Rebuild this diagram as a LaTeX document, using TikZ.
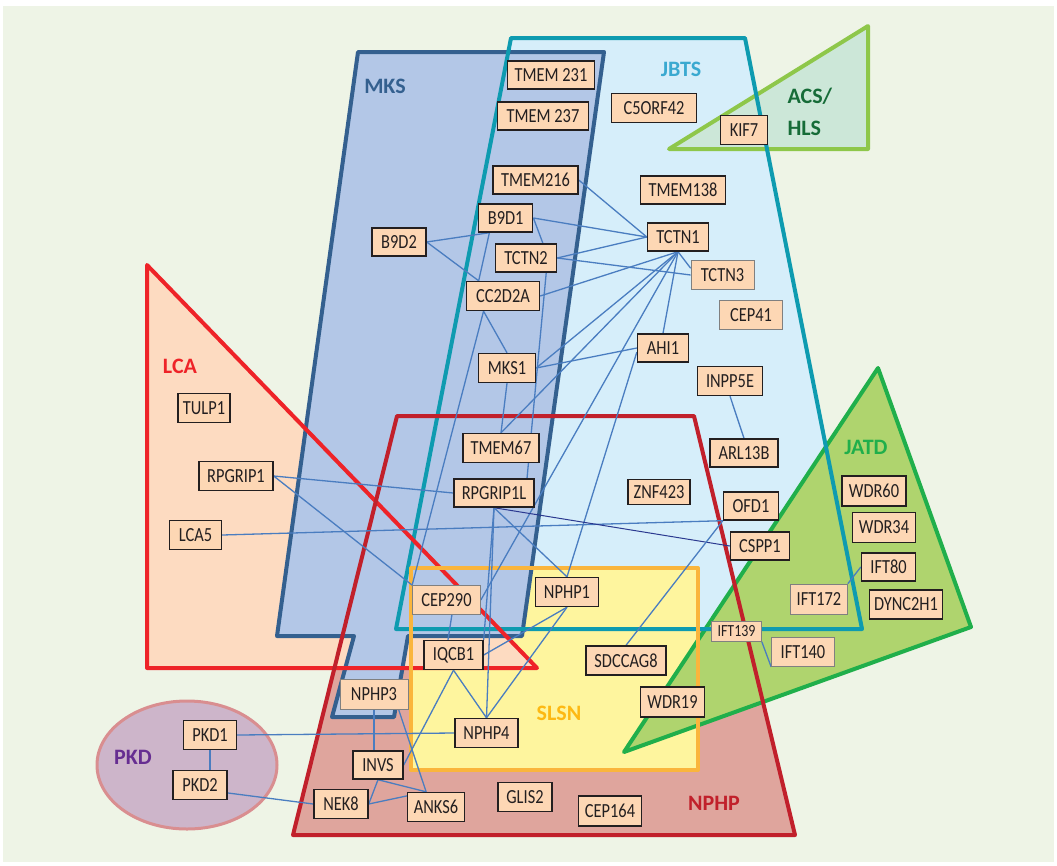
\documentclass[tikz,border=0pt]{standalone}
\usepackage{fontspec}
\setmainfont{Carlito}
\newfontfamily\boxfont{Carlito}[FakeStretch=0.82]
\newfontfamily\labfont{Carlito}
\usetikzlibrary{calc}
\pgfdeclarelayer{back}
\pgfdeclarelayer{mid}
\pgfsetlayers{back,mid,main}
\definecolor{bgc}{HTML}{EEF4E6}
\definecolor{jbtsF}{HTML}{D6EEFA}\definecolor{jbtsD}{HTML}{0E9BB0}\definecolor{jbtsT}{HTML}{3AA9D0}
\definecolor{mksF}{HTML}{B3C7E7}\definecolor{mksD}{HTML}{34608F}
\definecolor{lcaF}{HTML}{FDDBC1}\definecolor{lcaD}{HTML}{EE2328}
\definecolor{nphpF}{HTML}{DFA59D}\definecolor{nphpD}{HTML}{C1202B}
\definecolor{slsnF}{HTML}{FEF59E}\definecolor{slsnD}{HTML}{FAB53C}\definecolor{slsnT}{HTML}{FDB913}
\definecolor{jatdF}{HTML}{AFD46E}\definecolor{jatdD}{HTML}{20AF4B}
\definecolor{acsF}{HTML}{CCE7D8}\definecolor{acsD}{HTML}{8EC74A}\definecolor{acsT}{HTML}{166C38}
\definecolor{pkdF}{HTML}{CDB5CA}\definecolor{pkdD}{HTML}{D98E90}\definecolor{pkdT}{HTML}{662D91}
\definecolor{boxF}{HTML}{FDD7B4}\definecolor{boxD}{HTML}{231F20}
\definecolor{connC}{HTML}{4A7DC0}\definecolor{navyC}{HTML}{2B3990}
\begin{document}
\begin{tikzpicture}[x=1pt,y=-1pt,
  gbox/.style={draw=boxD,line width=1.4pt,fill=boxF,inner sep=0pt,text=boxD,
    font=\boxfont\fontsize{20}{20}\selectfont},
  lbox/.style={gbox,draw=gray,line width=0.7pt},
  conn/.style={draw=connC,line width=1.3pt},
  navy/.style={draw=navyC,line width=1pt},
  region/.style={line width=4pt,line join=round},
  rlab/.style={font=\labfont\bfseries\fontsize{22}{22}\selectfont}]
\useasboundingbox (0,0) rectangle (1057,865);
\begin{pgfonlayer}{back}
\fill[white] (0,0) rectangle (1057,865);
\fill[bgc] (3,6) rectangle (1054,862);
% fills
\fill[nphpF] (397,416) -- (694,416) -- (795,835) -- (293,835) -- cycle;
\fill[jbtsF] (511,38) -- (745,38) -- (862,629) -- (396,629) -- cycle;
\fill[slsnF] (411,568) rectangle (698,770);
\fill[lcaF] (147,265) -- (537,668) -- (147,668) -- cycle;
\fill[mksF] (358,52) -- (604,52) -- (522,636) -- (408,636) -- (394,717) -- (332,717) -- (354,636) -- (277,636) -- cycle;
\fill[jatdF] (878,368) -- (971,627) -- (624,752) -- cycle;
\fill[acsF] (669,149) -- (868,26) -- (868,149) -- cycle;
\fill[pkdF] (187,765) ellipse [x radius=90,y radius=64];
% borders
\draw[region,draw=jatdD] (878,368) -- (971,627) -- (624,752) -- cycle;
\draw[region,draw=acsD] (669,149) -- (868,26) -- (868,149) -- cycle;
\draw[region,draw=mksD] (358,52) -- (604,52) -- (522,636) -- (408,636) -- (394,717) -- (332,717) -- (354,636) -- (277,636) -- cycle;
\draw[region,draw=jbtsD] (511,38) -- (745,38) -- (862,629) -- (396,629) -- cycle;
\draw[region,draw=lcaD] (147,265) -- (537,668) -- (147,668) -- cycle;
\draw[region,draw=slsnD] (411,568) rectangle (698,770);
\draw[region,draw=nphpD] (397,416) -- (694,416) -- (795,835) -- (293,835) -- cycle;
\draw[region,draw=pkdD,line width=3pt] (187,765) ellipse [x radius=90,y radius=64];
\end{pgfonlayer}
% region labels
\node[rlab,text=mksD] (lmks) at (385,86) {MKS};
\node[rlab,text=jbtsT] (ljbts) at (681,69) {JBTS};
\node[rlab,text=acsT,anchor=west] (lacs) at (784,96) {ACS/};
\node[rlab,text=acsT,anchor=west] (lhls) at (784,128) {HLS};
\node[rlab,text=lcaD] (llca) at (180,366) {LCA};
\node[rlab,text=jatdD] (ljatd) at (866,447) {JATD};
\node[rlab,text=slsnT] (lslsn) at (559,713) {SLSN};
\node[rlab,text=nphpD] (lnphp) at (714,803) {NPHP};
\node[rlab,text=pkdT] (lpkd) at (133,757) {PKD};
% gene boxes
\node[gbox,minimum width=87,minimum height=28] (tmem231) at (551,75) {TMEM 231};
\node[gbox,minimum width=91,minimum height=28] (tmem237) at (543,116) {TMEM 237};
\node[gbox,minimum width=85,minimum height=29] (c5orf42) at (654,108) {C5ORF42};
\node[gbox,minimum width=47,minimum height=29] (kif7) at (744,130) {KIF7};
\node[gbox,minimum width=85,minimum height=28] (tmem216) at (535.5,180) {TMEM216};
\node[gbox,minimum width=85,minimum height=28] (tmem138) at (683,190) {TMEM138};
\node[gbox,minimum width=54,minimum height=28] (b9d1) at (505.7,218) {B9D1};
\node[gbox,minimum width=54,minimum height=28] (b9d2) at (399,242) {B9D2};
\node[gbox,minimum width=61,minimum height=28] (tctn1) at (678,237) {TCTN1};
\node[gbox,minimum width=61,minimum height=28] (tctn2) at (526,258) {TCTN2};
\node[lbox,minimum width=63,minimum height=29] (tctn3) at (722.5,275) {TCTN3};
\node[gbox,minimum width=73,minimum height=29] (cc2d2a) at (503,296) {CC2D2A};
\node[lbox,minimum width=63,minimum height=29] (cep41) at (751,315) {CEP41};
\node[gbox,minimum width=51,minimum height=28] (ahi1) at (663,348) {AHI1};
\node[gbox,minimum width=57,minimum height=29] (mks1) at (507,368) {MKS1};
\node[gbox,minimum width=65,minimum height=29] (inpp5e) at (730,381) {INPP5E};
\node[gbox,minimum width=52,minimum height=29] (tulp1) at (204,408) {TULP1};
\node[gbox,minimum width=76,minimum height=29] (tmem67) at (501,448) {TMEM67};
\node[gbox,minimum width=68,minimum height=28] (arl13b) at (744,453) {ARL13B};
\node[gbox,minimum width=74,minimum height=29] (rpgrip1) at (236,476) {RPGRIP1};
\node[gbox,minimum width=64,minimum height=30] (wdr60) at (874,491) {WDR60};
\node[gbox,minimum width=62,minimum height=25] (znf423) at (659,492) {ZNF423};
\node[gbox,minimum width=80,minimum height=28] (rpgrip1l) at (494,493) {RPGRIP1L};
\node[gbox,minimum width=55,minimum height=28] (ofd1) at (751,506) {OFD1};
\node[gbox,minimum width=63,minimum height=30] (wdr34) at (884,527.5) {WDR34};
\node[gbox,minimum width=52,minimum height=29] (lca5) at (195.5,535) {LCA5};
\node[gbox,minimum width=59,minimum height=28] (cspp1) at (760,546) {CSPP1};
\node[gbox,minimum width=54,minimum height=28] (ift80) at (888.5,567) {IFT80};
\node[gbox,minimum width=63,minimum height=29] (nphp1) at (567,592) {NPHP1};
\node[lbox,minimum width=68,minimum height=29] (cep290) at (446.5,600) {CEP290};
\node[lbox,minimum width=57,minimum height=30] (ift172) at (819,599) {IFT172};
\node[gbox,minimum width=73,minimum height=29] (dync2h1) at (906,604.5) {DYNC2H1};
\node[lbox,minimum width=50,minimum height=20,font=\boxfont\fontsize{17}{17}\selectfont] (ift139) at (736.5,631.5) {IFT139};
\node[lbox,minimum width=63,minimum height=29] (ift140) at (803,652) {IFT140};
\node[gbox,minimum width=59,minimum height=29] (iqcb1) at (453.5,655) {IQCB1};
\node[gbox,minimum width=80,minimum height=29] (sdccag8) at (626,660.5) {SDCCAG8};
\node[lbox,minimum width=68,minimum height=30] (nphp3) at (374,694) {NPHP3};
\node[gbox,minimum width=64,minimum height=30] (wdr19) at (672.5,702) {WDR19};
\node[gbox,minimum width=63,minimum height=29] (nphp4) at (486.5,733) {NPHP4};
\node[gbox,minimum width=53,minimum height=29] (pkd1) at (210,735) {PKD1};
\node[gbox,minimum width=50,minimum height=28] (invs) at (378,765) {INVS};
\node[gbox,minimum width=54,minimum height=29] (pkd2) at (200,785) {PKD2};
\node[gbox,minimum width=54,minimum height=29] (nek8) at (341,804) {NEK8};
\node[gbox,minimum width=57,minimum height=29] (anks6) at (436,807) {ANKS6};
\node[gbox,minimum width=54,minimum height=29] (glis2) at (525,797) {GLIS2};
\node[gbox,minimum width=63,minimum height=30] (cep164) at (610,811) {CEP164};
% connectors
\begin{pgfonlayer}{mid}
\draw[conn] (tmem216.east) -- (tctn1.west);
\draw[conn] (b9d1.east) -- (tctn1.west);
\draw[conn] (b9d1.east) -- (tctn2.41);
\draw[conn] (b9d2.east) -- (b9d1.222);
\draw[conn] (b9d1.222) -- (cc2d2a.148);
\draw[conn] (b9d2.east) -- (cc2d2a.148);
\draw[conn] (tctn2.east) -- (tctn1.west);
\draw[conn] (tctn2.east) -- (tctn3.west);
\draw[conn] (tctn1.south) -- (tctn3.168);
\draw[conn] (cc2d2a.east) -- (tctn1.south);
\draw[conn] (tctn1.south) -- (ahi1.north);
\draw[conn] (tctn1.south) -- (mks1.east);
\draw[conn] (tctn1.south) -- (tmem67.north);
\draw[conn] (tctn1.south) -- (cep290.east);
\draw[conn] (mks1.east) -- (ahi1.west);
\draw[conn] (ahi1.189) -- (nphp1.north);
\draw[conn] (mks1.south) -- (tmem67.north);
\draw[conn] (cc2d2a.218) -- (mks1.north);
\draw[conn] (cc2d2a.218) -- (cep290.north west);
\draw[conn] (tctn2.-36) -- (rpgrip1l.24);
\draw[conn] (rpgrip1.east) -- (rpgrip1l.west);
\draw[conn] (rpgrip1.east) -- (cep290.north west);
\draw[conn] (lca5.east) -- (ofd1.south west);
\draw[navy] (rpgrip1l.south) -- (cspp1.west);
\draw[conn] (rpgrip1l.south) -- (nphp1.north);
\draw[conn] (rpgrip1l.south) -- (nphp4.north);
\draw[conn] (rpgrip1l.south) -- (iqcb1.north east);
\draw[conn] (iqcb1.110) -- (cep290.-70);
\draw[conn] (iqcb1.east) -- (nphp1.south);
\draw[conn] (iqcb1.south) -- (nphp4.north);
\draw[conn] (iqcb1.south) -- (invs.east);
\draw[conn] (nphp4.north) -- (nphp1.south);
\draw[conn] (pkd1.east) -- (nphp4.west);
\draw[conn] (pkd1.south) -- (pkd1.south |- pkd2.north);
\draw[conn] (pkd2.-16) -- (nek8.west);
\draw[conn] (nphp3.south) -- (nphp3.south |- invs.north);
\draw[conn] (nphp3.-32) -- (anks6.123);
\draw[conn] (invs.south) -- (nek8.east);
\draw[conn] (invs.south) -- (anks6.123);
\draw[conn] (nek8.east) -- (anks6.123);
\draw[conn] (sdccag8.north) -- (ofd1.south west);
\draw[conn] (inpp5e.south) -- (arl13b.north);
\draw[conn] (ift172.north east) -- (ift80.west);
\draw[conn] (ift139.south east) -- (ift140.south west);
\end{pgfonlayer}
\end{tikzpicture}
\end{document}
